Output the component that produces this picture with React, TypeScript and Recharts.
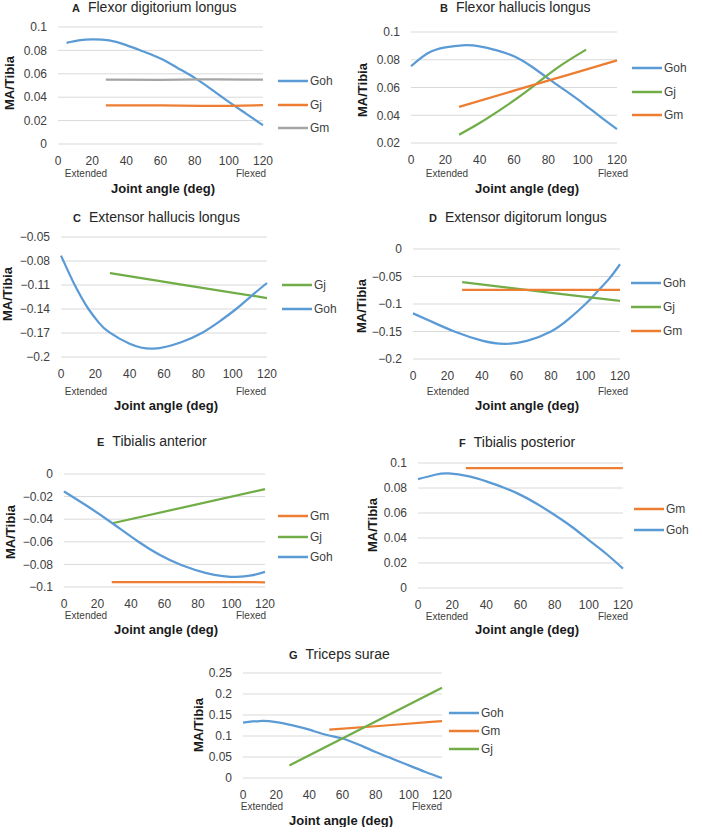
import React from 'react';
import { LineChart, Line, XAxis, YAxis, CartesianGrid, Legend } from 'recharts';

const FONT = '"Liberation Sans", Arial, Helvetica, sans-serif';
const TEXT = '#404040';
const BLUE = '#5B9BD5';
const ORANGE = '#ED7D31';
const GREEN = '#70AD47';
const GREY = '#A5A5A5';

const ANGLE_TICKS = [0, 20, 40, 60, 80, 100, 120];

// A  Flexor digitorium longus
const A_GOH_ANGLE = [5, 12, 20, 30, 40, 50, 60, 70, 80, 90, 100, 110, 120];
const A_GOH = [0.0864, 0.0885, 0.0895, 0.0885, 0.0845, 0.079, 0.073, 0.065, 0.0565, 0.0465, 0.036, 0.026, 0.016];
const A_GJ_ANGLE = [28, 60, 90, 120];
const A_GJ = [0.033, 0.033, 0.0326, 0.0332];
const A_GM_ANGLE = [28, 60, 90, 120];
const A_GM = [0.055, 0.0549, 0.0553, 0.055];
const A_TICKS = [0, 0.02, 0.04, 0.06, 0.08, 0.1];

// B  Flexor hallucis longus
const B_GOH_ANGLE = [0, 10, 20, 30, 40, 50, 60, 70, 80, 90, 100, 110, 120];
const B_GOH = [0.0753, 0.0849, 0.0889, 0.0904, 0.0897, 0.0868, 0.0825, 0.0753, 0.0664, 0.0577, 0.0488, 0.0392, 0.03];
const B_GJ_ANGLE = [28, 40, 55, 70, 85, 102];
const B_GJ = [0.026, 0.0344, 0.0464, 0.0597, 0.074, 0.0873];
const B_GM_ANGLE = [28, 60, 90, 120];
const B_GM = [0.046, 0.0577, 0.0686, 0.0796];
const B_TICKS = [0.02, 0.04, 0.06, 0.08, 0.1];

// C  Extensor hallucis longus
const C_GJ_ANGLE = [28.5, 74, 120];
const C_GJ = [-0.095, -0.1107, -0.1263];
const C_GOH_ANGLE = [0, 4, 8, 12, 16, 22, 28, 40, 54, 70, 82, 92, 102, 111, 120];
const C_GOH = [-0.0733, -0.092, -0.11, -0.126, -0.14, -0.157, -0.169, -0.1835, -0.1896, -0.1815, -0.17, -0.156, -0.14, -0.1235, -0.1075];
const C_TICKS = [-0.2, -0.17, -0.14, -0.11, -0.08, -0.05];

// D  Extensor digitorum longus
const D_GOH_ANGLE = [0, 10, 24, 40, 53, 66, 80, 90, 100, 107, 114, 120];
const D_GOH = [-0.117, -0.131, -0.15, -0.1665, -0.1724, -0.167, -0.15, -0.128, -0.1, -0.077, -0.053, -0.0277];
const D_GJ_ANGLE = [28.5, 74, 120];
const D_GJ = [-0.0603, -0.0773, -0.0942];
const D_GM_ANGLE = [28.5, 120];
const D_GM = [-0.0745, -0.0745];
const D_TICKS = [-0.2, -0.15, -0.1, -0.05, 0];

// E  Tibialis anterior
const E_GM_ANGLE = [28.5, 120];
const E_GM = [-0.0957, -0.0958];
const E_GJ_ANGLE = [28.9, 120];
const E_GJ = [-0.0436, -0.0134];
const E_GOH_ANGLE = [0, 14.5, 28.9, 44, 57, 70, 85, 95, 103, 112, 120];
const E_GOH = [-0.0154, -0.029, -0.0436, -0.0595, -0.0715, -0.0805, -0.0877, -0.0903, -0.0911, -0.0898, -0.0866];
const E_TICKS = [-0.1, -0.08, -0.06, -0.04, -0.02, 0];

// F  Tibialis posterior
const F_GM_ANGLE = [28, 120];
const F_GM = [0.096, 0.096];
const F_GOH_ANGLE = [0, 10, 18, 30, 40, 50, 60, 70, 80, 90, 100, 110, 120];
const F_GOH = [0.0871, 0.0906, 0.0917, 0.0893, 0.0853, 0.0804, 0.0745, 0.067, 0.0584, 0.049, 0.0383, 0.0276, 0.0155];
const F_TICKS = [0, 0.02, 0.04, 0.06, 0.08, 0.1];

// G  Triceps surae
const G_GOH_ANGLE = [0, 10, 20, 30, 40, 50, 60, 70, 80, 90, 100, 110, 120];
const G_GOH = [0.1317, 0.1357, 0.1333, 0.1254, 0.115, 0.103, 0.094, 0.079, 0.062, 0.046, 0.03, 0.0143, 0];
const G_GM_ANGLE = [52, 86, 120];
const G_GM = [0.115, 0.125, 0.1357];
const G_GJ_ANGLE = [28, 120];
const G_GJ = [0.03, 0.215];
const G_TICKS = [0, 0.05, 0.1, 0.15, 0.2, 0.25];

type Pt = { angle: number; value: number };
type Series = { name: string; color: string; data: Pt[] };

const zip = (xs: number[], ys: number[]): Pt[] => xs.map((x, i) => ({ angle: x, value: ys[i] }));
const fmt = (v: number) => String(v).replace('-', '\u2212');

type PanelCfg = {
  letter: string;
  title: string;
  plot: { x0: number; x1: number; yTop: number; yBot: number };
  ticks: number[];
  series: Series[];
  legend: { x: number; y: number; step: number; order: string[] };
  titleAt: [number, number];
  ext: [number, number];
  flex: [number, number];
  xlab: [number, number];
  ylab: [number, number];
};

const panels: PanelCfg[] = [
  {
    letter: 'A', title: 'Flexor digitorium longus',
    plot: { x0: 58, x1: 263, yTop: 27, yBot: 144 }, ticks: A_TICKS,
    series: [
      { name: 'Goh', color: BLUE, data: zip(A_GOH_ANGLE, A_GOH) },
      { name: 'Gj', color: ORANGE, data: zip(A_GJ_ANGLE, A_GJ) },
      { name: 'Gm', color: GREY, data: zip(A_GM_ANGLE, A_GM) },
    ],
    legend: { x: 278, y: 81, step: 23.5, order: ['Goh', 'Gj', 'Gm'] },
    titleAt: [72, 7], ext: [86, 174], flex: [251, 174], xlab: [163, 188], ylab: [9, 83],
  },
  {
    letter: 'B', title: 'Flexor hallucis longus',
    plot: { x0: 411, x1: 617, yTop: 32, yBot: 143 }, ticks: B_TICKS,
    series: [
      { name: 'Goh', color: BLUE, data: zip(B_GOH_ANGLE, B_GOH) },
      { name: 'Gj', color: GREEN, data: zip(B_GJ_ANGLE, B_GJ) },
      { name: 'Gm', color: ORANGE, data: zip(B_GM_ANGLE, B_GM) },
    ],
    legend: { x: 632, y: 68, step: 23.5, order: ['Goh', 'Gj', 'Gm'] },
    titleAt: [440, 7], ext: [447, 174], flex: [613, 174], xlab: [527, 188], ylab: [362, 90],
  },
  {
    letter: 'C', title: 'Extensor hallucis longus',
    plot: { x0: 61, x1: 267, yTop: 237, yBot: 357 }, ticks: C_TICKS,
    series: [
      { name: 'Gj', color: GREEN, data: zip(C_GJ_ANGLE, C_GJ) },
      { name: 'Goh', color: BLUE, data: zip(C_GOH_ANGLE, C_GOH) },
    ],
    legend: { x: 282, y: 285, step: 24, order: ['Gj', 'Goh'] },
    titleAt: [73, 217], ext: [86, 392], flex: [251, 392], xlab: [166, 405], ylab: [7, 294],
  },
  {
    letter: 'D', title: 'Extensor digitorum longus',
    plot: { x0: 413, x1: 620, yTop: 249, yBot: 359 }, ticks: D_TICKS,
    series: [
      { name: 'Goh', color: BLUE, data: zip(D_GOH_ANGLE, D_GOH) },
      { name: 'Gj', color: GREEN, data: zip(D_GJ_ANGLE, D_GJ) },
      { name: 'Gm', color: ORANGE, data: zip(D_GM_ANGLE, D_GM) },
    ],
    legend: { x: 631, y: 283, step: 24, order: ['Goh', 'Gj', 'Gm'] },
    titleAt: [429, 217], ext: [448, 392], flex: [613, 392], xlab: [527, 405], ylab: [361, 306],
  },
  {
    letter: 'E', title: 'Tibialis anterior',
    plot: { x0: 64, x1: 265, yTop: 474, yBot: 587 }, ticks: E_TICKS,
    series: [
      { name: 'Gm', color: ORANGE, data: zip(E_GM_ANGLE, E_GM) },
      { name: 'Gj', color: GREEN, data: zip(E_GJ_ANGLE, E_GJ) },
      { name: 'Goh', color: BLUE, data: zip(E_GOH_ANGLE, E_GOH) },
    ],
    legend: { x: 278, y: 516, step: 20.7, order: ['Gm', 'Gj', 'Goh'] },
    titleAt: [97, 441], ext: [86, 616], flex: [251, 616], xlab: [166, 629], ylab: [10, 532],
  },
  {
    letter: 'F', title: 'Tibialis posterior',
    plot: { x0: 418, x1: 623, yTop: 463, yBot: 588 }, ticks: F_TICKS,
    series: [
      { name: 'Gm', color: ORANGE, data: zip(F_GM_ANGLE, F_GM) },
      { name: 'Goh', color: BLUE, data: zip(F_GOH_ANGLE, F_GOH) },
    ],
    legend: { x: 634, y: 509, step: 21, order: ['Gm', 'Goh'] },
    titleAt: [459, 442], ext: [447, 617], flex: [613, 617], xlab: [527, 629], ylab: [372, 525],
  },
  {
    letter: 'G', title: 'Triceps surae',
    plot: { x0: 243, x1: 442, yTop: 673, yBot: 778 }, ticks: G_TICKS,
    series: [
      { name: 'Goh', color: BLUE, data: zip(G_GOH_ANGLE, G_GOH) },
      { name: 'Gm', color: ORANGE, data: zip(G_GM_ANGLE, G_GM) },
      { name: 'Gj', color: GREEN, data: zip(G_GJ_ANGLE, G_GJ) },
    ],
    legend: { x: 449, y: 713, step: 18, order: ['Goh', 'Gm', 'Gj'] },
    titleAt: [289, 654], ext: [262, 807], flex: [427, 807], xlab: [341, 820], ylab: [198, 725],
  },
];

const abs = (x: number, y: number): React.CSSProperties => ({
  position: 'absolute', left: x, top: y, transform: 'translate(-50%, -50%)', whiteSpace: 'nowrap',
  fontFamily: FONT, color: TEXT, lineHeight: 1,
});

function Panel({ cfg }: { cfg: PanelCfg }) {
  const { plot } = cfg;
  const YW = 60, MT = 10, MR = 100, XH = 24, MB = 36;
  const width = YW + (plot.x1 - plot.x0) + MR;
  const height = MT + (plot.yBot - plot.yTop) + XH + MB;
  const left = plot.x0 - YW;
  const top = plot.yTop - MT;
  const byName = Object.fromEntries(cfg.series.map((s) => [s.name, s]));
  const tickStyle = { fontSize: 12, fill: TEXT, fontFamily: FONT };
  const ymin = cfg.ticks[0];
  const ymax = cfg.ticks[cfg.ticks.length - 1];

  return (
    <>
      <div style={{ position: 'absolute', left, top }}>
        <LineChart width={width} height={height} margin={{ top: MT, right: MR, left: 0, bottom: MB }}>
          <CartesianGrid vertical={false} stroke="#D9D9D9" />
          <XAxis type="number" dataKey="angle" domain={[0, 120]} ticks={ANGLE_TICKS} interval={0}
            axisLine={false} tickLine={false} height={XH} tickMargin={6} tick={tickStyle} />
          <YAxis type="number" domain={[ymin, ymax]} ticks={cfg.ticks} interval={0} width={YW}
            axisLine={false} tickLine={false} tickMargin={5} tickFormatter={fmt} tick={tickStyle} />
          {cfg.series.map((s) => (
            <Line key={s.name} name={s.name} data={s.data} dataKey="value" type="natural"
              stroke={s.color} strokeWidth={2.25} dot={false} activeDot={false} isAnimationActive={false} />
          ))}
          <Legend layout="vertical" align="center" verticalAlign="middle"
            wrapperStyle={{ left: cfg.legend.x - left, top: cfg.legend.y - top - 8, width: 70, height: 80 }}
            content={() => (
              <div style={{ position: 'relative' }}>
                {cfg.legend.order.map((n, i) => (
                  <div key={n} style={{ position: 'absolute', left: 0, top: i * cfg.legend.step, height: 16,
                    display: 'flex', alignItems: 'center', fontFamily: FONT, fontSize: 12, color: TEXT }}>
                    <svg width={30} height={4} style={{ display: 'block' }}>
                      <line x1={0} y1={2} x2={30} y2={2} stroke={byName[n].color} strokeWidth={2.5} />
                    </svg>
                    <span style={{ marginLeft: 2 }}>{n}</span>
                  </div>
                ))}
              </div>
            )}
          />
        </LineChart>
      </div>
      <div style={{ position: 'absolute', left: cfg.titleAt[0], top: cfg.titleAt[1] - 8, lineHeight: '16px',
        whiteSpace: 'nowrap', fontFamily: FONT, color: '#262626' }}>
        <span style={{ fontWeight: 700, fontSize: 11 }}>{cfg.letter}</span>
        <span style={{ fontSize: 14, marginLeft: 8 }}>{cfg.title}</span>
      </div>
      <div style={{ ...abs(cfg.ext[0], cfg.ext[1]), fontSize: 10 }}>Extended</div>
      <div style={{ ...abs(cfg.flex[0], cfg.flex[1]), fontSize: 10 }}>Flexed</div>
      <div style={{ ...abs(cfg.xlab[0], cfg.xlab[1]), fontSize: 13, fontWeight: 700, color: '#1a1a1a' }}>Joint angle (deg)</div>
      <div style={{ ...abs(cfg.ylab[0], cfg.ylab[1]), transform: 'translate(-50%, -50%) rotate(-90deg)',
        fontSize: 13, fontWeight: 700, color: '#1a1a1a' }}>MA/Tibia</div>
    </>
  );
}

export default function App() {
  return (
    <div style={{ position: 'absolute', left: 0, top: 0, width: 709, height: 827, background: '#fff', overflow: 'hidden' }}>
      {panels.map((p) => (
        <Panel key={p.letter} cfg={p} />
      ))}
    </div>
  );
}
